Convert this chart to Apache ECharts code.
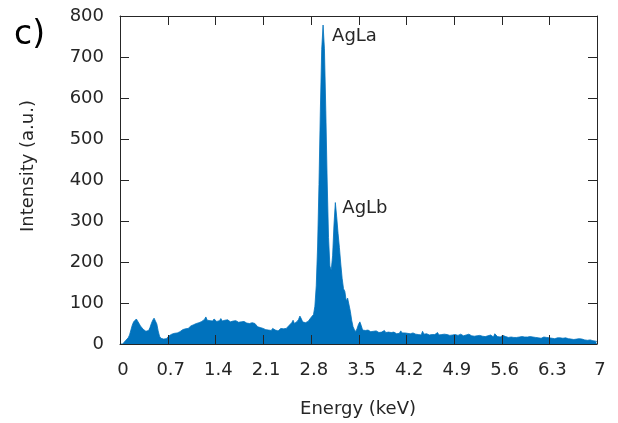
<!DOCTYPE html>
<html>
<head>
<meta charset="utf-8">
<script src="https://cdn.jsdelivr.net/npm/echarts@6/dist/echarts.min.js"></script>
<style>html,body{margin:0;padding:0;background:#fff}#c{width:618px;height:423px}</style>
</head>
<body>
<div id="c"></div>
<script>
// Energy sampling (keV)
const energyStart = 0;
const energyStep = 0.02;
// Intensity (a.u.), one value per 0.02 keV, 0 .. 7 keV
const intensity = [
  0,0,0,2,8,12,15,22,34,46,          // 0.00
  54,58,61,57,50,44,40,36,38,31,     // 0.20
  28,33,40,50,58,63,60,49,32,19,     // 0.40
  14,16,12,15,13,17,20,22,24,23,     // 0.60
  26,28,27,31,30,33,35,34,37,40,     // 0.80
  38,42,44,43,47,46,50,49,52,51,     // 1.00
  55,53,60,66,58,62,57,60,56,61,     // 1.20
  58,55,59,57,62,56,60,58,55,59,     // 1.40
  57,54,58,56,52,57,55,53,56,54,     // 1.60
  58,55,53,51,54,50,49,52,48,50,     // 1.80
  46,42,45,40,36,38,41,35,37,34,     // 2.00
  36,33,38,35,34,37,32,36,38,35,     // 2.20
  37,40,38,42,45,48,52,58,50,54,     // 2.40
  55,60,68,62,54,50,52,48,55,58,     // 2.60
  64,68,72,92,142,239,389,568,718,778, // 2.80
  720,570,400,260,190,180,215,290,345,310, // 3.00
  270,235,195,160,135,128,105,112,108,80,  // 3.20
  58,42,35,30,38,48,54,45,34,30,     // 3.40
  33,31,34,32,30,33,31,29,32,30,     // 3.60
  28,31,29,27,33,28,26,29,27,28,     // 3.80
  26,29,27,25,28,26,32,27,25,27,     // 4.00
  24,26,28,25,23,27,25,24,26,23,     // 4.20
  25,22,31,24,23,25,27,22,24,23,     // 4.40
  25,23,21,28,22,26,23,21,24,22,     // 4.60
  23,25,21,24,22,20,23,25,21,22,     // 4.80
  24,21,20,23,22,19,24,21,20,22,     // 5.00
  19,22,20,18,21,23,19,20,18,21,     // 5.20
  20,18,22,19,17,25,21,18,19,17,     // 5.40
  19,21,17,18,20,16,19,17,18,16,     // 5.60
  18,16,19,17,15,18,16,17,15,17,     // 5.80
  16,18,15,17,14,16,17,15,16,14,     // 6.00
  15,17,14,16,13,15,16,14,15,13,     // 6.20
  14,15,13,15,12,14,13,15,12,13,     // 6.40
  13,12,14,11,13,12,11,13,10,12,     // 6.60
  11,10,12,9,11,10,9,8,10,7,         // 6.80
  6                                  // 7.00
];
// Axis ticks
const xTicks = [0, 0.7, 1.4, 2.1, 2.8, 3.5, 4.2, 4.9, 5.6, 6.3, 7];
const yTicks = [0, 100, 200, 300, 400, 500, 600, 700, 800];
// Peak annotations
const peakLabels = ['AgLa', 'AgLb'];
const peakEnergy = [2.98, 3.16];
const peakIntensity = [778, 345];

const data = intensity.map((v, i) => [+(energyStart + i * energyStep).toFixed(2), v]);

const FONT = 'DejaVu Sans';
const TXT = '#262626';
const xMin = xTicks[0], xMax = xTicks[xTicks.length - 1], xInt = +(xTicks[1] - xTicks[0]).toFixed(2);
const yMin = yTicks[0], yMax = yTicks[yTicks.length - 1], yInt = yTicks[1] - yTicks[0];
const TICK_LEN = 9;

const fmtX = v => String(parseFloat(v.toFixed(1)));
function axisBase() {
  return {
    type: 'value',
    splitLine: { show: false },
    axisLine: { show: true, onZero: false, lineStyle: { color: TXT, width: 1 } },
    axisTick: { show: false },
    zlevel: 1,
    z: 5
  };
}

const chart = echarts.init(document.getElementById('c'), null, { renderer: 'canvas' });
chart.setOption({
  animation: false,
  backgroundColor: '#ffffff',
  grid: { left: 120, right: 21, top: 16, bottom: 79, containLabel: false },
  xAxis: [
    Object.assign(axisBase(), {
      position: 'bottom', min: xMin, max: xMax, interval: xInt,
      axisLabel: { show: true, margin: 17, color: TXT, fontFamily: FONT, fontSize: 18, formatter: fmtX, padding: [0, 0, 0, 6] }
    }),
    Object.assign(axisBase(), {
      position: 'top', min: xMin, max: xMax, interval: xInt,
      axisLabel: { show: false }
    })
  ],
  yAxis: [
    Object.assign(axisBase(), {
      position: 'left', min: yMin, max: yMax, interval: yInt,
      axisLabel: { show: true, margin: 16, color: TXT, fontFamily: FONT, fontSize: 18 }
    }),
    Object.assign(axisBase(), {
      position: 'right', min: yMin, max: yMax, interval: yInt,
      axisLabel: { show: false }
    })
  ],
  series: [{
    type: 'line',
    data: data,
    xAxisIndex: 0, yAxisIndex: 0,
    showSymbol: false,
    symbol: 'none',
    sampling: null,
    lineStyle: { color: '#0072BD', width: 0.8 },
    areaStyle: { color: '#0072BD', opacity: 1 },
    z: 2
  }]
});

const graphics = [
  { type: 'text', x: 28, y: 166, rotation: Math.PI / 2,
    style: { text: 'Intensity (a.u.)', font: '18px "' + FONT + '"', fill: TXT, textAlign: 'center', textVerticalAlign: 'middle' } },
  { type: 'text', x: 358, y: 409,
    style: { text: 'Energy (keV)', font: '18px "' + FONT + '"', fill: TXT, textAlign: 'center', textVerticalAlign: 'middle' } },
  { type: 'text', x: 14, y: 35,
    style: { text: 'c)', font: '33px "' + FONT + '"', fill: '#000', textAlign: 'left', textVerticalAlign: 'middle' } }
];
const offs = [[9, 11], [7, 6]];
peakLabels.forEach((t, i) => {
  const p = chart.convertToPixel({ xAxisIndex: 0, yAxisIndex: 0 }, [peakEnergy[i], peakIntensity[i]]);
  graphics.push({ type: 'text', x: p[0] + offs[i][0], y: p[1] + offs[i][1],
    style: { text: t, font: '18px "' + FONT + '"', fill: TXT, textAlign: 'left', textVerticalAlign: 'middle' } });
});
// Inward ticks on all four sides, placed through the axis scales, drawn above the fill
const tickStyle = { stroke: TXT, lineWidth: 1 };
xTicks.forEach(x => {
  const b = chart.convertToPixel({ xAxisIndex: 0, yAxisIndex: 0 }, [x, yMin]);
  const t = chart.convertToPixel({ xAxisIndex: 0, yAxisIndex: 0 }, [x, yMax]);
  const px = Math.round(b[0]) + 0.5;
  graphics.push({ type: 'line', zlevel: 2, z: 100, silent: true, shape: { x1: px, y1: b[1], x2: px, y2: b[1] - TICK_LEN }, style: tickStyle });
  graphics.push({ type: 'line', zlevel: 2, z: 100, silent: true, shape: { x1: px, y1: t[1], x2: px, y2: t[1] + TICK_LEN }, style: tickStyle });
});
yTicks.forEach(y => {
  const l = chart.convertToPixel({ xAxisIndex: 0, yAxisIndex: 0 }, [xMin, y]);
  const r = chart.convertToPixel({ xAxisIndex: 0, yAxisIndex: 0 }, [xMax, y]);
  const py = Math.round(l[1]) + 0.5;
  graphics.push({ type: 'line', zlevel: 2, z: 100, silent: true, shape: { x1: l[0], y1: py, x2: l[0] + TICK_LEN, y2: py }, style: tickStyle });
  graphics.push({ type: 'line', zlevel: 2, z: 100, silent: true, shape: { x1: r[0], y1: py, x2: r[0] - TICK_LEN, y2: py }, style: tickStyle });
});
chart.setOption({ graphic: graphics });
</script>
</body>
</html>
